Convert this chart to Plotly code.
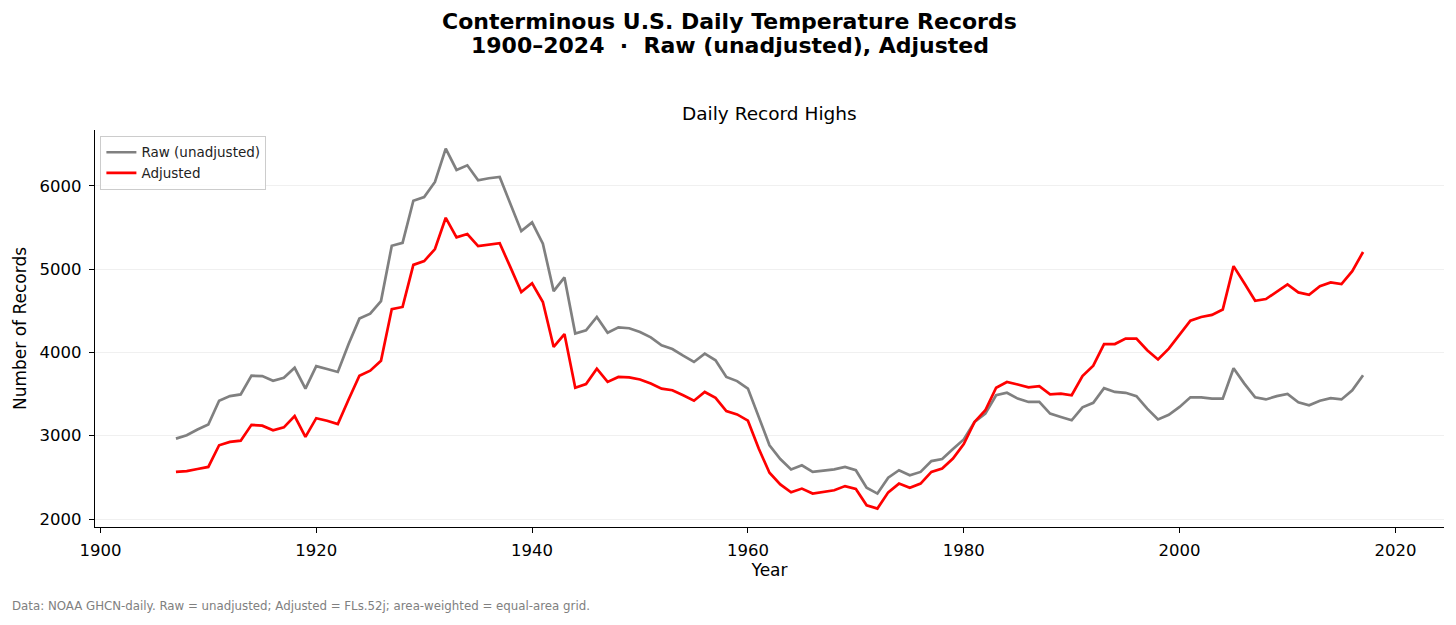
import plotly.graph_objects as go

years = list(range(1907, 2018))

raw_highs = [
    2965, 3005, 3075, 3135, 3420, 3475, 3495, 3720, 3715, 3660,
    3695, 3815, 3565, 3835, 3800, 3765, 4100, 4405, 4465, 4615,
    5280, 5315, 5820, 5865, 6045, 6445, 6190, 6245, 6065, 6090,
    6105, 5790, 5455, 5560, 5305, 4735, 4900, 4225, 4265, 4425,
    4235, 4300, 4290, 4245, 4180, 4085, 4040, 3960, 3885, 3985,
    3905, 3705, 3655, 3565, 3215, 2885, 2720, 2595, 2645, 2565,
    2580, 2595, 2625, 2585, 2375, 2305, 2495, 2585, 2525, 2565,
    2695, 2720, 2840, 2955, 3165, 3265, 3485, 3515, 3445, 3405,
    3405, 3265, 3225, 3185, 3340, 3395, 3570, 3525, 3515, 3475,
    3325, 3195, 3250, 3345, 3460, 3460, 3445, 3445, 3810, 3625,
    3460, 3435, 3475, 3500, 3400, 3365, 3420, 3450, 3435, 3545,
    3725,
]

adjusted_highs = [
    2565, 2575, 2600, 2625, 2885, 2925, 2940, 3130, 3120, 3065,
    3100, 3235, 2985, 3210, 3180, 3140, 3435, 3720, 3780, 3900,
    4520, 4545, 5050, 5095, 5240, 5615, 5380, 5420, 5275, 5295,
    5310, 5020, 4725, 4830, 4605, 4065, 4220, 3575, 3620, 3805,
    3645, 3705, 3700, 3675, 3625, 3565, 3545, 3485, 3420, 3525,
    3455, 3295, 3255, 3180, 2845, 2555, 2415, 2320, 2365, 2305,
    2325, 2345, 2395, 2360, 2165, 2125, 2320, 2425, 2375, 2425,
    2565, 2605, 2725, 2900, 3165, 3305, 3575, 3645, 3615, 3580,
    3595, 3495, 3505, 3485, 3715, 3840, 4100, 4100, 4165, 4165,
    4025, 3915, 4045, 4220, 4380, 4425, 4450, 4515, 5035, 4830,
    4620, 4640, 4730, 4815, 4720, 4690, 4795, 4840, 4820, 4975,
    5205,
]

x_ticks = [1900, 1920, 1940, 1960, 1980, 2000, 2020]
y_ticks = [2000, 3000, 4000, 5000, 6000]

font = "DejaVu Sans"

fig = go.Figure()
fig.add_trace(go.Scatter(
    x=years, y=raw_highs, name="Raw (unadjusted)", mode="lines",
    line=dict(color="gray", width=2.7),
))
fig.add_trace(go.Scatter(
    x=years, y=adjusted_highs, name="Adjusted", mode="lines",
    line=dict(color="red", width=2.7),
))

# page body adds an 8px offset, so the figure is 8px smaller and margins shifted
fig.update_xaxes(
    range=[1899.5, 2024.5], tickvals=x_ticks, showgrid=False, zeroline=False,
    showline=True, linecolor="black", linewidth=1.2,
    ticks="outside", ticklen=5, tickcolor="black", ticklabelstandoff=3,
    tickfont=dict(family=font, size=16.5, color="black"),
    title=dict(text="Year", font=dict(family=font, size=17, color="black"), standoff=5),
)
fig.update_yaxes(
    range=[1904, 6669], tickvals=y_ticks, showgrid=True, gridcolor="#f0f0f0",
    gridwidth=1, zeroline=False,
    showline=True, linecolor="black", linewidth=1.2,
    ticks="outside", ticklen=5, tickcolor="black", ticklabelstandoff=4,
    tickfont=dict(family=font, size=16.5, color="black"),
    title=dict(text="Number of Records", font=dict(family=font, size=17, color="black"), standoff=8),
)

# suptitle is centred on the whole figure, subtitle on the plot area
fig.update_layout(
    width=1448, height=617,
    margin=dict(l=87, r=12, t=122, b=98),
    plot_bgcolor="white", paper_bgcolor="white",
    font=dict(family=font, color="black"),
    legend=dict(
        x=0.004, y=0.985, xanchor="left", yanchor="top",
        bgcolor="rgba(255,255,255,0.8)", bordercolor="#cccccc", borderwidth=1,
        font=dict(family=font, size=13.5, color="#222222"),
        tracegroupgap=0, itemwidth=30,
    ),
    showlegend=True,
    annotations=[
        dict(text="<b>Conterminous U.S. Daily Temperature Records</b>",
             xref="paper", yref="paper", x=0.5, y=1.0, xanchor="center", yanchor="middle",
             xshift=-40, yshift=109, showarrow=False, font=dict(family=font, size=22, color="black")),
        dict(text="<b>1900\u20132024  \u00b7  Raw (unadjusted), Adjusted</b>",
             xref="paper", yref="paper", x=0.5, y=1.0, xanchor="center", yanchor="middle",
             xshift=-40, yshift=85, showarrow=False, font=dict(family=font, size=22, color="black")),
        dict(text="Daily Record Highs",
             xref="paper", yref="paper", x=0.5, y=1.0, xanchor="center", yanchor="middle",
             yshift=17, showarrow=False, font=dict(family=font, size=18.5, color="black")),
        dict(text="Data: NOAA GHCN-daily. Raw = unadjusted; Adjusted = FLs.52j; area-weighted = equal-area grid.",
             xref="paper", yref="paper", x=0, y=0, xanchor="left", yanchor="middle",
             xshift=-85, yshift=-79, showarrow=False, font=dict(family=font, size=11.8, color="gray")),
    ],
)

fig.write_html("out.html")
